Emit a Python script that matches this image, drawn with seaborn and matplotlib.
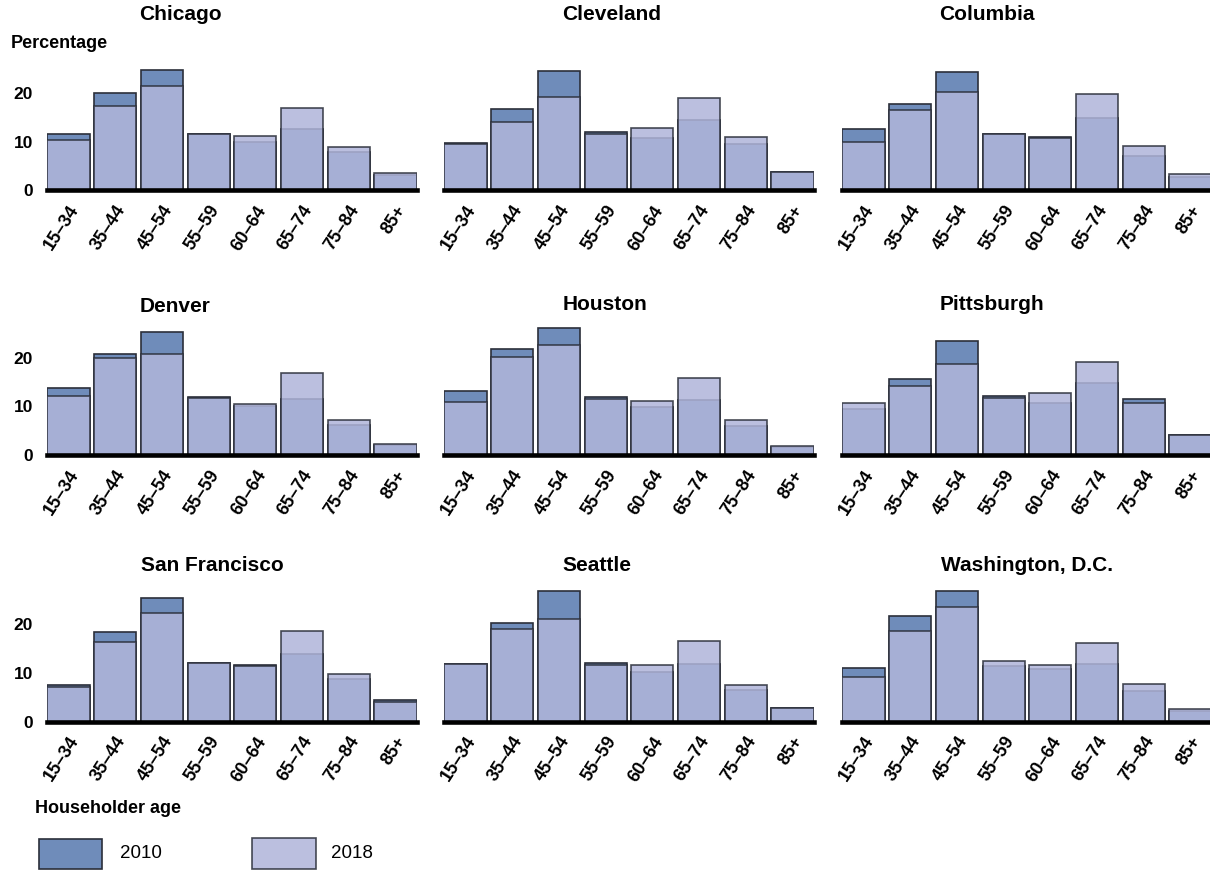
import numpy as np
import pandas as pd
import seaborn as sns
import matplotlib.pyplot as plt
import matplotlib.transforms as mtransforms
from matplotlib.patches import Rectangle

sns.set_style('white')
plt.rcParams['font.family'] = ['Liberation Sans', 'DejaVu Sans']
plt.rcParams['text.color'] = 'black'
plt.rcParams['xtick.color'] = 'black'
plt.rcParams['ytick.color'] = 'black'

ages = ['15–34', '35–44', '45–54', '55–59', '60–64', '65–74', '75–84', '85+']
cities = ['Chicago', 'Cleveland', 'Columbia', 'Denver', 'Houston',
          'Pittsburgh', 'San Francisco', 'Seattle', 'Washington, D.C.']

# share of households (%) by householder age
chicago_2010 = [11.7, 20.1, 24.8, 11.6, 9.9, 12.7, 8.0, 3.1]
chicago_2018 = [10.3, 17.3, 21.4, 11.6, 11.1, 17.0, 9.0, 3.5]
cleveland_2010 = [9.8, 16.7, 24.6, 12.0, 10.8, 14.4, 9.5, 3.9]
cleveland_2018 = [9.5, 14.1, 19.2, 11.6, 12.9, 19.0, 11.0, 3.9]
columbia_2010 = [12.7, 17.8, 24.4, 11.6, 10.9, 14.8, 7.0, 2.7]
columbia_2018 = [9.9, 16.5, 20.2, 11.6, 10.7, 19.8, 9.2, 3.3]
denver_2010 = [13.8, 20.8, 25.2, 12.0, 10.0, 11.6, 6.2, 2.0]
denver_2018 = [12.2, 19.9, 20.8, 11.7, 10.5, 16.8, 7.1, 2.3]
houston_2010 = [13.1, 21.7, 26.0, 11.9, 9.8, 11.3, 6.0, 1.6]
houston_2018 = [10.8, 20.1, 22.5, 11.6, 11.1, 15.9, 7.1, 1.9]
pittsburgh_2010 = [9.5, 15.7, 23.4, 12.1, 10.6, 14.7, 11.4, 4.1]
pittsburgh_2018 = [10.6, 14.1, 18.6, 11.7, 12.7, 19.0, 10.6, 4.1]
sanfrancisco_2010 = [7.5, 18.3, 25.3, 12.1, 11.6, 13.9, 8.7, 4.4]
sanfrancisco_2018 = [7.1, 16.3, 22.3, 12.0, 11.3, 18.5, 9.8, 4.0]
seattle_2010 = [11.8, 20.3, 26.7, 12.1, 10.2, 11.8, 6.4, 2.8]
seattle_2018 = [11.8, 18.9, 21.1, 11.7, 11.5, 16.5, 7.4, 2.8]
washington_2010 = [11.0, 21.7, 26.8, 11.3, 10.8, 11.9, 6.3, 2.1]
washington_2018 = [9.1, 18.5, 23.6, 12.5, 11.5, 16.2, 7.6, 2.6]

data_2010 = [chicago_2010, cleveland_2010, columbia_2010, denver_2010, houston_2010,
             pittsburgh_2010, sanfrancisco_2010, seattle_2010, washington_2010]
data_2018 = [chicago_2018, cleveland_2018, columbia_2018, denver_2018, houston_2018,
             pittsburgh_2018, sanfrancisco_2018, seattle_2018, washington_2018]

c2010 = '#6f8cba'
c2018 = '#b0b5da'
edge = '#2b2f3a'

W, H = 1210, 871
fig = plt.figure(figsize=(W / 100, H / 100), dpi=100)

col_left = [47, 444, 842]
col_w = 370
row_zero = [190.5, 455, 721.5]
px_per_unit = 4.87
ymax = 28
title_pos = [(180, 15), (612, 15), (987, 15),
             (175, 306), (605, 305), (992, 305),
             (212, 565), (597, 565), (1027, 565)]

# nudge rotated tick labels a little to the right
shift = mtransforms.ScaledTranslation(7 / 100, 0, fig.dpi_scale_trans)

for i, city in enumerate(cities):
    r, c = divmod(i, 3)
    h = ymax * px_per_unit
    ax = fig.add_axes([col_left[c] / W, (H - row_zero[r]) / H, col_w / W, h / H])
    df = pd.DataFrame({'age': ages, 'y2010': data_2010[i], 'y2018': data_2018[i]})
    sns.barplot(data=df, x='age', y='y2010', color=c2010, saturation=1, width=0.9,
                edgecolor=edge, linewidth=1.2, ax=ax)
    sns.barplot(data=df, x='age', y='y2018', color=c2018, saturation=1, width=0.9,
                edgecolor=edge, linewidth=1.2, alpha=0.86, ax=ax)
    ax.set_xlim(-0.46, 7.46)
    ax.set_ylim(0, ymax)
    ax.set_xlabel('')
    ax.set_ylabel('')
    for s in ['top', 'right', 'left']:
        ax.spines[s].set_visible(False)
    ax.spines['bottom'].set_color('black')
    ax.spines['bottom'].set_linewidth(3.3)
    ax.tick_params(length=0)
    ax.set_yticks([0, 10, 20])
    if c == 0:
        ax.set_yticklabels(['0', '10', '20'], fontsize=12.5, fontweight='bold')
        ax.tick_params(axis='y', pad=10)
    else:
        ax.set_yticklabels([])
    ax.set_xticks(range(len(ages)))
    ax.set_xticklabels(ages, rotation=57, ha='right', va='center',
                       rotation_mode='anchor', fontsize=13, fontweight='bold')
    ax.tick_params(axis='x', pad=12)
    for lab in ax.get_xticklabels():
        lab.set_transform(lab.get_transform() + shift)
    tx, ty = title_pos[i]
    fig.text(tx / W, 1 - ty / H, city, ha='center', va='center',
             fontsize=15, fontweight='bold')

fig.text(11 / W, 1 - 43 / H, 'Percentage', ha='left', va='center',
         fontsize=13, fontweight='bold')
fig.text(35 / W, 1 - 808 / H, 'Householder age', ha='left', va='center',
         fontsize=13, fontweight='bold')

# legend
fig.add_artist(Rectangle((39 / W, 1 - 869 / H), 63 / W, 30 / H, transform=fig.transFigure,
                         facecolor=c2010, edgecolor=edge, linewidth=1.2))
fig.add_artist(Rectangle((252 / W, 1 - 869 / H), 64 / W, 31 / H, transform=fig.transFigure,
                         facecolor=c2018, alpha=0.86, edgecolor=edge, linewidth=1.2))
fig.text(120 / W, 1 - 853 / H, '2010', ha='left', va='center', fontsize=13.5)
fig.text(331 / W, 1 - 853 / H, '2018', ha='left', va='center', fontsize=13.5)

fig.savefig('out.png', dpi=100, facecolor='white')
